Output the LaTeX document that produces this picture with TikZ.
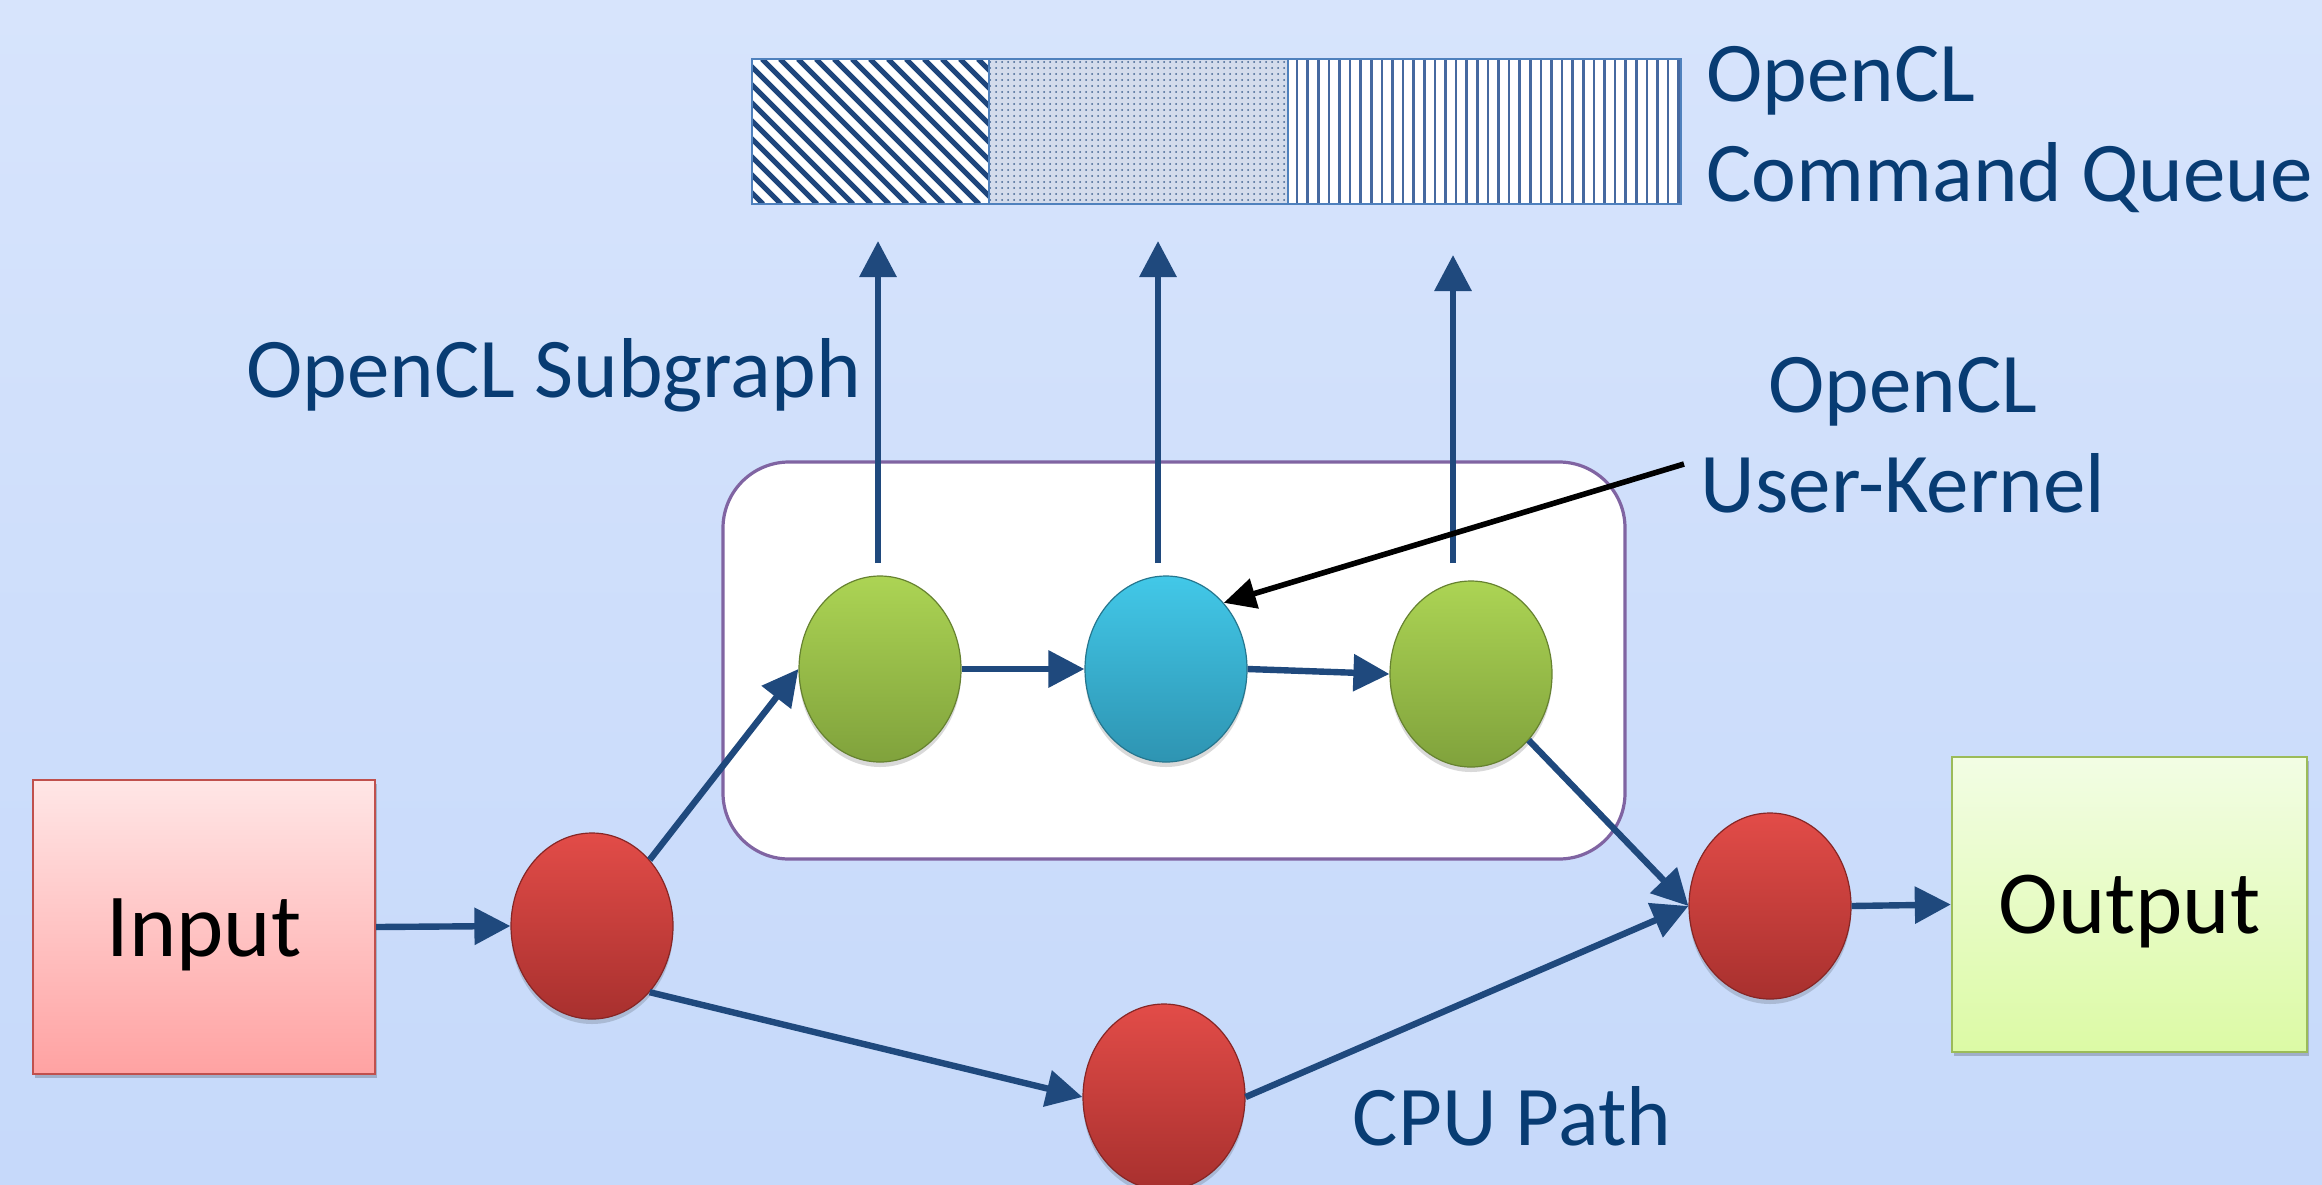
\documentclass[tikz,border=0pt]{standalone}
\usepackage{fontspec}
\setmainfont{Carlito}
\usetikzlibrary{shapes.geometric,arrows.meta,shadows,patterns}
\definecolor{bgtop}{RGB}{215,228,252}
\definecolor{bgbot}{RGB}{198,217,250}
\definecolor{txtc}{RGB}{8,60,115}
\definecolor{arrowc}{RGB}{31,73,125}
\definecolor{purplec}{RGB}{128,100,162}
\definecolor{redtop}{RGB}{226,76,72}
\definecolor{redbot}{RGB}{168,48,46}
\definecolor{greentop}{RGB}{172,212,84}
\definecolor{greenbot}{RGB}{128,162,60}
\definecolor{bluetop}{RGB}{66,200,232}
\definecolor{bluebot}{RGB}{46,148,178}
\definecolor{intop}{RGB}{255,230,230}
\definecolor{inbot}{RGB}{255,162,162}
\definecolor{inborder}{RGB}{192,80,77}
\definecolor{outtop}{RGB}{242,253,228}
\definecolor{outbot}{RGB}{220,250,165}
\definecolor{outborder}{RGB}{155,187,89}
\definecolor{qborder}{RGB}{79,129,189}
\definecolor{stripec}{RGB}{30,70,125}
\definecolor{vlinec}{RGB}{70,105,160}
\definecolor{dotbg}{RGB}{212,220,236}
\begin{document}
\begin{tikzpicture}[x=0.5pt,y=-0.5pt,
  ball/.style={ellipse, inner sep=0pt, minimum width=81pt, minimum height=93pt, line width=0.6pt,
    drop shadow={shadow xshift=0pt, shadow yshift=-2.5pt, opacity=0.15, fill=black}},
  redball/.style={ball, draw=redbot!80!black, top color=redtop, bottom color=redbot},
  greenball/.style={ball, draw=greenbot!80!black, top color=greentop, bottom color=greenbot},
  blueball/.style={ball, draw=bluebot!80!black, top color=bluetop, bottom color=bluebot},
  iobox/.style={rectangle, inner sep=0pt, line width=1.2pt, font=\fontsize{45}{54}\selectfont,
    text height=29pt, text depth=0pt,
    drop shadow={shadow xshift=1pt, shadow yshift=-2pt, opacity=0.2, fill=black}},
  flow/.style={-{Triangle[length=18pt,width=18pt]}, line width=3.2pt, draw=arrowc},
  pointer/.style={-{Triangle[length=16pt,width=15pt]}, line width=2.8pt, draw=black},
  lbl/.style={text=txtc, font=\fontsize{42.5}{50}\selectfont, inner sep=0pt}
]
% background
\shade[top color=bgtop, bottom color=bgbot] (0,0) rectangle (2322,1184);
\useasboundingbox (0,0) rectangle (2322,1184);

% command queue
\begin{scope}
  \clip (752,59) rectangle (989,204);
  \fill[white] (752,59) rectangle (989,204);
  \foreach \i in {0,...,22} {
    \draw[stripec, line width=2.5pt] ({600+\i*18},59) -- ({745+\i*18},204);
  }
\end{scope}
\fill[dotbg] (989,59) rectangle (1288,204);
\fill[pattern=dots, pattern color=stripec!85!white] (989,59) rectangle (1288,204);
\fill[white] (1288,59) rectangle (1681,204);
\foreach \i in {0,...,36} {
  \draw[vlinec, line width=1.3pt] ({1297+\i*10.6},59) -- ({1297+\i*10.6},204);
}
\draw[qborder, line width=1pt] (752,59) rectangle (1681,204);
\draw[qborder, line width=1pt] (989,59) -- (989,204);
\draw[qborder, line width=1.2pt] (1288,59) -- (1288,204);

% labels
\node[lbl, anchor=base west] (lq1) at (1706,101) {OpenCL};
\node[lbl, anchor=base west] (lq2) at (1706,201) {Command Queue};
\node[lbl, anchor=base west] (lsub) at (246,397) {OpenCL Subgraph};
\node[lbl, anchor=base] (lk1) at (1903,412) {OpenCL};
\node[lbl, anchor=base] (lk2) at (1903,512) {User-Kernel};
\node[lbl, anchor=base] (lcpu) at (1512,1145) {CPU Path};

% subgraph box
\node[draw=purplec, line width=1.6pt, fill=white, rounded corners=33pt,
  minimum width=451pt, minimum height=198.5pt, inner sep=0pt] (sub) at (1174,660.5) {};

% io boxes
\node[iobox, draw=inborder, top color=intop, bottom color=inbot,
  minimum width=171pt, minimum height=147pt] (in) at (204,927) {Input};
\node[iobox, draw=outborder, top color=outtop, bottom color=outbot,
  minimum width=177.5pt, minimum height=147.5pt] (out) at (2129.5,904.5) {Output};

% balls
\node[redball] (r1) at (592,926) {};
\node[greenball] (g1) at (880,669) {};
\node[blueball] (b) at (1166,669) {};
\node[greenball] (g3) at (1471,674) {};
\node[redball] (rb) at (1164,1097) {};
\node[redball] (r3) at (1770,906) {};

% vertical arrows to queue
\coordinate (u1s) at (878,563);
\coordinate (u1e) at (878,241);
\coordinate (u2s) at (1158,563);
\coordinate (u2e) at (1158,241);
\coordinate (u3s) at (1453,563);
\coordinate (u3e) at (1453,255);
\draw[flow] (u1s) -- (u1e);
\draw[flow] (u2s) -- (u2e);
\draw[flow] (u3s) -- (u3e);

% flow arrows
\draw[flow] (in.east) -- (r1.west);
\draw[flow] (r1.north east) -- (g1.west);
\draw[flow] (g1.east) -- (b.west);
\draw[flow] (b.east) -- (g3.west);
\draw[flow] (g3.south east) -- (r3.west);
\draw[flow] (r1.south east) -- (rb.west);
\draw[flow] (rb.east) -- (r3.west);
\draw[flow] (r3.east) -- (out.west);

% pointer
\coordinate (kp) at (1684,464);
\draw[pointer] (kp) -- (b.north east);
\end{tikzpicture}
\end{document}
